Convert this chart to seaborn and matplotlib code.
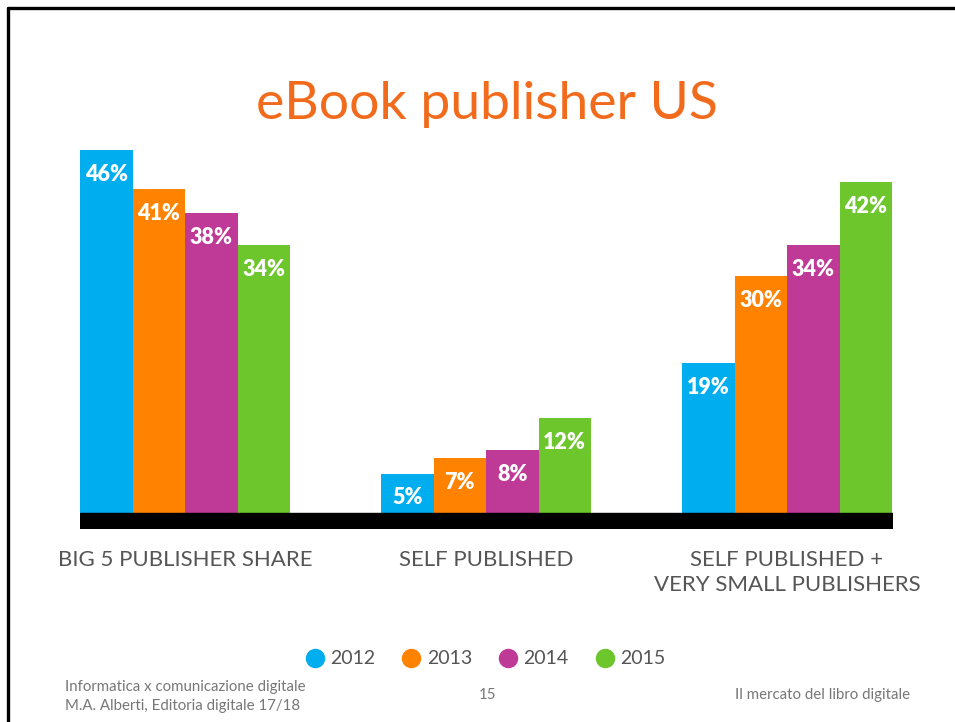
import matplotlib
matplotlib.use("Agg")
import matplotlib.pyplot as plt
from matplotlib.lines import Line2D
import seaborn as sns
import pandas as pd

categories = ["BIG 5 PUBLISHER SHARE", "SELF PUBLISHED", "SELF PUBLISHED +\nVERY SMALL PUBLISHERS"]
years = ["2012", "2013", "2014", "2015"]
values_2012 = [46, 5, 19]
values_2013 = [41, 7, 30]
values_2014 = [38, 8, 34]
values_2015 = [34, 12, 42]
colors = ["#00AEEF", "#FF8200", "#BF3A96", "#6DC62C"]

series = [values_2012, values_2013, values_2014, values_2015]
rows = []
for y, vals in zip(years, series):
    for c, v in zip(categories, vals):
        rows.append({"category": c, "year": y, "value": v})
df = pd.DataFrame(rows)

sns.set_style("white")
plt.rcParams["font.family"] = ["Lato", "DejaVu Sans"]

fig = plt.figure(figsize=(9.55, 7.22), dpi=100)
ax = fig.add_axes([80 / 955, (722 - 529) / 722, (893 - 80) / 955, (529 - 150) / 722])

sns.barplot(data=df, x="category", y="value", hue="year", hue_order=years,
            order=categories, palette=colors, width=0.698, linewidth=0,
            saturation=1, legend=False, ax=ax)

bars = [p for cont in ax.containers for p in cont]

ax.set_xlim(-0.349, 2.352)
ax.set_ylim(-2.03, 46)
ax.axhspan(-2.03, 0, color="black", zorder=3)

for p in bars:
    h = p.get_height()
    ax.text(p.get_x() + p.get_width() / 2, h - 3.1, f"{int(round(h))}%",
            ha="center", va="center", color="white", fontsize=15.5,
            fontweight="heavy", zorder=4)

for s in ax.spines.values():
    s.set_visible(False)
ax.set_yticks([])
ax.set_xlabel("")
ax.set_ylabel("")
ax.tick_params(axis="x", length=0, pad=15, labelsize=16, labelcolor="#555555")
ax.set_xticks(range(len(categories)))
ax.set_xticklabels(categories, linespacing=1.35)

fig.text(0.51, (722 - 104) / 722, "eBook publisher US", ha="center", va="center",
         color="#F26A1B", fontsize=38.5)

handles = [Line2D([], [], marker="o", linestyle="", markersize=13,
                  markerfacecolor=c, markeredgecolor=c) for c in colors]
fig.legend(handles, years, loc="center", bbox_to_anchor=(0.508, (722 - 659) / 722),
           ncol=4, frameon=False, fontsize=14, handlelength=1.0, handletextpad=0.3,
           columnspacing=1.35, labelcolor="#555555")

fig.text(65 / 955, (722 - 687) / 722, "Informatica x comunicazione digitale",
         ha="left", va="center", color="#777777", fontsize=10.8)
fig.text(65 / 955, (722 - 706) / 722, "M.A. Alberti, Editoria digitale 17/18",
         ha="left", va="center", color="#777777", fontsize=10.8)
fig.text(488 / 955, (722 - 695) / 722, "15", ha="center", va="center",
         color="#777777", fontsize=10.8)
fig.text(910 / 955, (722 - 695) / 722, "Il mercato del libro digitale",
         ha="right", va="center", color="#777777", fontsize=10.8)

fig.add_artist(Line2D([8 / 955, 1.0], [(722 - 8) / 722] * 2, color="black", linewidth=2.4))
fig.add_artist(Line2D([8 / 955] * 2, [0, (722 - 8) / 722], color="black", linewidth=2.4))

fig.savefig("out.png", dpi=100)
